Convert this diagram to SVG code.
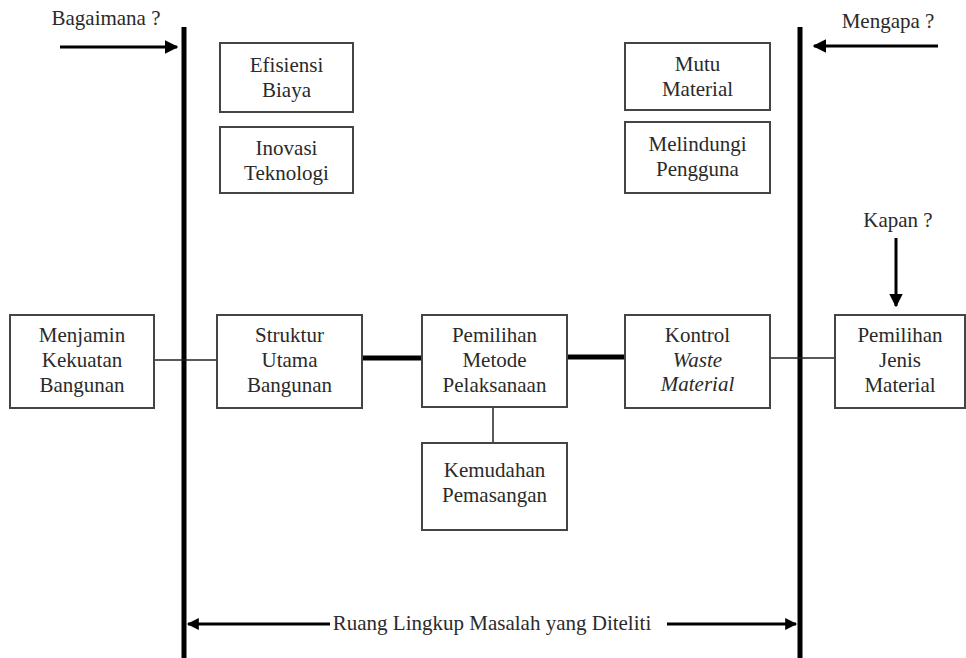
<svg xmlns="http://www.w3.org/2000/svg" width="966" height="658" viewBox="0 0 966 658">
<defs>
<style>
text{font-family:"Liberation Serif","Times New Roman",serif;font-size:21px;fill:#2a2a2a;text-anchor:middle}
.box{fill:#fff;stroke:#444;stroke-width:2}
.thin{stroke:#222;stroke-width:1.5;fill:none}
.thick{stroke:#000;stroke-width:5;fill:none}
.arr{stroke:#000;stroke-width:3;fill:none}
.it{font-style:italic}
</style>
<marker id="ah" viewBox="0 0 10 10" refX="9" refY="5" markerWidth="4.5" markerHeight="4.5" orient="auto" markerUnits="strokeWidth">
<path d="M0,0 L10,5 L0,10 z" fill="#000"/>
</marker>
<marker id="ah2" viewBox="0 0 10 10" refX="9" refY="5" markerWidth="5" markerHeight="4" orient="auto" markerUnits="strokeWidth">
<path d="M0,0 L10,5 L0,10 z" fill="#000"/>
</marker>
</defs>
<rect width="966" height="658" fill="#fff"/>
<g id="connectors">
<line class="thick" x1="184" y1="27" x2="184" y2="658"/>
<line class="thick" x1="800" y1="27" x2="800" y2="658"/>
<line class="arr" x1="60" y1="47" x2="177" y2="47" marker-end="url(#ah)"/>
<line class="arr" x1="938" y1="46" x2="814" y2="46" marker-end="url(#ah)"/>
<line class="arr" x1="896" y1="238" x2="896" y2="306" marker-end="url(#ah)"/>
<line class="thin" x1="154" y1="360" x2="217" y2="360"/>
<line class="thick" x1="362" y1="358" x2="422" y2="358"/>
<line class="thick" x1="567" y1="357" x2="625" y2="357"/>
<line class="thin" x1="770" y1="358" x2="835" y2="358"/>
<line class="thin" x1="493" y1="407" x2="493" y2="443"/>
<line class="arr" x1="330" y1="624" x2="188" y2="624" marker-end="url(#ah2)"/>
<line class="arr" x1="667" y1="624" x2="796" y2="624" marker-end="url(#ah2)"/>
</g>
<g id="lbl-bagaimana"><text x="106" y="25">Bagaimana ?</text></g>
<g id="lbl-mengapa"><text x="888" y="28">Mengapa ?</text></g>
<g id="lbl-kapan"><text x="898" y="227">Kapan ?</text></g>
<g id="lbl-ruang"><text x="492" y="630">Ruang Lingkup Masalah yang Diteliti</text></g>
<g id="efisiensi"><rect class="box" x="220" y="43" width="133" height="69"/><text x="286.5" y="72">Efisiensi</text><text x="286.5" y="97">Biaya</text></g>
<g id="inovasi"><rect class="box" x="220" y="127" width="133" height="66"/><text x="286.5" y="155">Inovasi</text><text x="286.5" y="180">Teknologi</text></g>
<g id="mutu"><rect class="box" x="625" y="43" width="145" height="67"/><text x="697.5" y="71">Mutu</text><text x="697.5" y="96">Material</text></g>
<g id="melindungi"><rect class="box" x="625" y="122" width="145" height="71"/><text x="697.5" y="151">Melindungi</text><text x="697.5" y="176">Pengguna</text></g>
<g id="menjamin"><rect class="box" x="10" y="315" width="144" height="93"/><text x="82" y="342">Menjamin</text><text x="82" y="367">Kekuatan</text><text x="82" y="392">Bangunan</text></g>
<g id="struktur"><rect class="box" x="217" y="315" width="145" height="93"/><text x="289.5" y="342">Struktur</text><text x="289.5" y="367">Utama</text><text x="289.5" y="392">Bangunan</text></g>
<g id="pemilihan-metode"><rect class="box" x="422" y="315" width="145" height="92"/><text x="494.5" y="342">Pemilihan</text><text x="494.5" y="367">Metode</text><text x="494.5" y="392">Pelaksanaan</text></g>
<g id="kontrol"><rect class="box" x="625" y="315" width="145" height="93"/><text x="697.5" y="342">Kontrol</text><text class="it" x="697.5" y="367">Waste</text><text class="it" x="697.5" y="391">Material</text></g>
<g id="pemilihan-jenis"><rect class="box" x="835" y="315" width="130" height="93"/><text x="900" y="342">Pemilihan</text><text x="900" y="367">Jenis</text><text x="900" y="392">Material</text></g>
<g id="kemudahan"><rect class="box" x="422" y="443" width="145" height="87"/><text x="494.5" y="477">Kemudahan</text><text x="494.5" y="502">Pemasangan</text></g>
</svg>
